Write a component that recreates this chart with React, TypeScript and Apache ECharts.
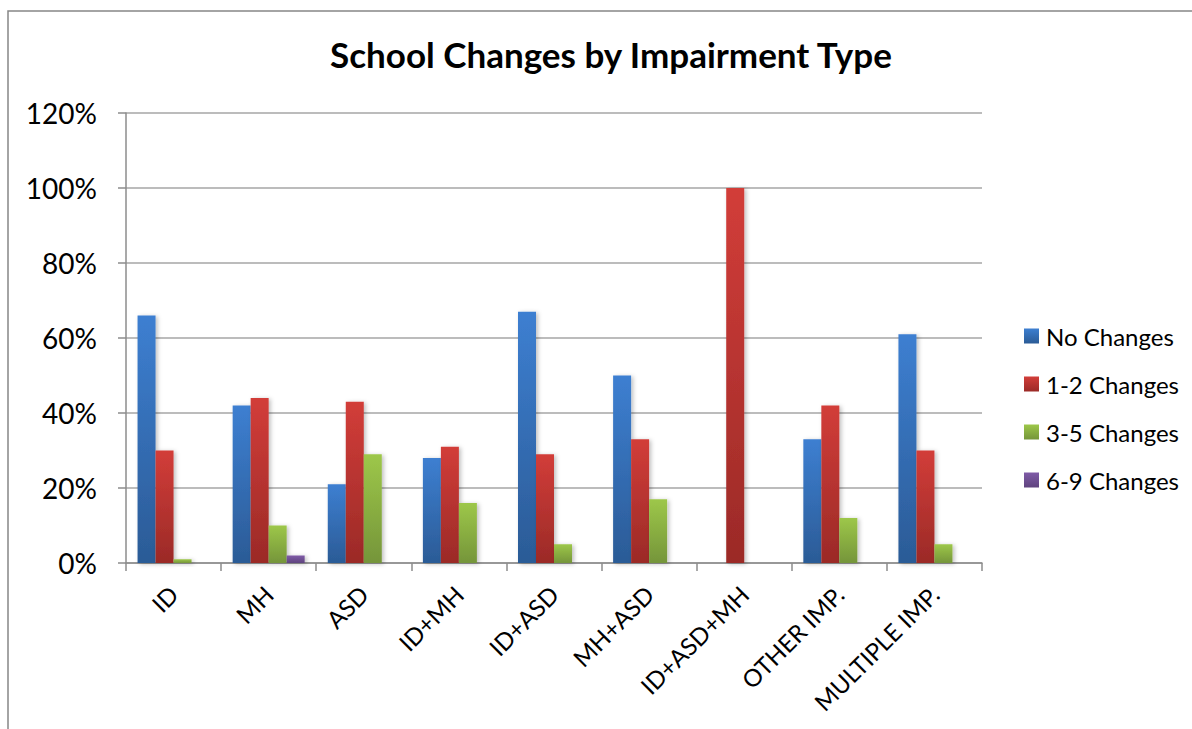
import React, { useEffect, useRef } from "react";
import * as echarts from "echarts";

const categories = ["ID", "MH", "ASD", "ID+MH", "ID+ASD", "MH+ASD", "ID+ASD+MH", "OTHER IMP.", "MULTIPLE IMP."];
const seriesNames = ["No Changes", "1-2 Changes", "3-5 Changes", "6-9 Changes"];
const noChanges = [66, 42, 21, 28, 67, 50, 0, 33, 61];
const oneTwo = [30, 44, 43, 31, 29, 33, 100, 42, 30];
const threeFive = [1, 10, 29, 16, 5, 17, 0, 12, 5];
const sixNine = [0, 2, 0, 0, 0, 0, 0, 0, 0];
const yTicks = [0, 20, 40, 60, 80, 100, 120];

const gradients: [string, string][] = [
  ["#3d7fd1", "#2b5b96"],
  ["#d23d39", "#9b2a27"],
  ["#9dc749", "#75953a"],
  ["#7f5ba7", "#5f437e"],
];

const FONT = "Lato, 'Open Sans', sans-serif";

export default function App() {
  const ref = useRef<HTMLDivElement>(null);
  useEffect(() => {
    if (!ref.current) return;
    const chart = echarts.init(ref.current, null, { renderer: "svg" });
    const data = [noChanges, oneTwo, threeFive, sixNine];
    chart.setOption({
      animation: false,
      backgroundColor: "#ffffff",
      textStyle: { fontFamily: FONT },
      title: {
        text: "School Changes by Impairment Type",
        left: 606,
        top: 31,
        textAlign: "center",
        textStyle: { fontSize: 35, fontWeight: "bold", color: "#000", fontFamily: FONT },
      },
      graphic: [
        {
          type: "rect",
          shape: { x: 8, y: 11, width: 1200, height: 730 },
          style: { fill: "none", stroke: "#868686", lineWidth: 1.5 },
          silent: true,
          z: -1,
        },
      ],
      legend: {
        orient: "vertical",
        left: 1019,
        top: 319,
        itemWidth: 15,
        itemHeight: 15,
        itemGap: 24,
        icon: "rect",
        data: seriesNames,
        textStyle: { fontSize: 24, color: "#000", fontFamily: FONT, lineHeight: 24, padding: [0, 0, 0, 2] },
      },
      grid: { left: 126, right: 210, top: 113, bottom: 166, containLabel: false },
      xAxis: {
        type: "category",
        data: categories,
        axisLine: { show: true, lineStyle: { color: "#8c8c8c", width: 1.5 } },
        axisTick: { show: true, length: 8, alignWithLabel: false, lineStyle: { color: "#8c8c8c", width: 1.5 } },
        axisLabel: { rotate: 45, fontSize: 24, color: "#000", margin: 27, fontFamily: FONT, interval: 0 },
      },
      yAxis: {
        type: "value",
        min: 0,
        max: 120,
        interval: 20,
        axisLine: { show: true, lineStyle: { color: "#8c8c8c", width: 1.5 } },
        axisTick: { show: true, length: 8, lineStyle: { color: "#8c8c8c", width: 1.5 } },
        splitLine: { show: true, lineStyle: { color: "#a6a6a6", width: 1.5 } },
        axisLabel: {
          fontSize: 28,
          color: "#000",
          margin: 29,
          fontFamily: FONT,
          formatter: (v: number) => (yTicks.includes(v) ? `${v}%` : ""),
        },
      },
      series: seriesNames.map((name, i) => ({
        name,
        type: "bar",
        data: data[i],
        barWidth: 18,
        barGap: "0%",
        itemStyle: {
          color: new echarts.graphic.LinearGradient(0, 0, 0, 1, [
            { offset: 0, color: gradients[i][0] },
            { offset: 1, color: gradients[i][1] },
          ]),
          shadowBlur: 4,
          shadowOffsetX: 2,
          shadowOffsetY: 1,
          shadowColor: "rgba(0,0,0,0.25)",
        },
      })),
    });
    return () => chart.dispose();
  }, []);
  return (
    <div
      ref={ref}
      style={{ position: "fixed", left: 0, top: 0, width: 1192, height: 729 }}
    />
  );
}
